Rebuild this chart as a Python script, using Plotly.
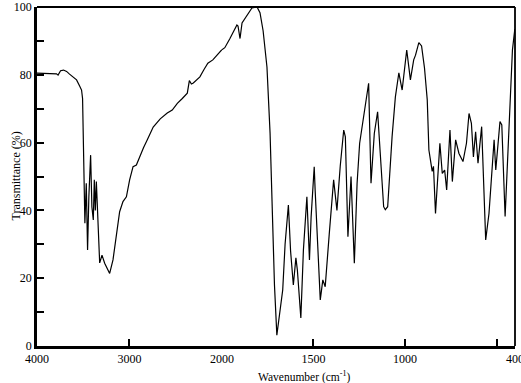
import plotly.graph_objects as go

wavenumber = [4000, 3919, 3843, 3789, 3772, 3745, 3713, 3680, 3648, 3605, 3572, 3539, 3518, 3507,
              3496, 3482, 3467, 3453, 3439, 3420, 3406, 3391, 3380, 3369, 3358, 3347, 3322, 3311,
              3297, 3268, 3214, 3178, 3141, 3106, 3070, 3033, 2998, 2961, 2925, 2889, 2848, 2808,
              2743, 2667, 2591, 2537, 2482, 2428, 2374, 2352, 2330, 2309, 2238, 2195, 2152, 2098,
              2022, 2000,
              1984, 1956, 1918, 1912, 1901, 1890, 1863, 1836, 1808, 1792, 1775, 1754, 1737, 1726,
              1713, 1700, 1693, 1682, 1668, 1655, 1637, 1625, 1610, 1596, 1588, 1569, 1555, 1536,
              1522, 1513, 1496, 1491, 1477, 1463, 1449, 1436, 1414, 1390, 1372, 1354, 1335, 1326,
              1312, 1295, 1277, 1262, 1248, 1226, 1199, 1186, 1168, 1150, 1135, 1117, 1108, 1095,
              1071, 1053, 1034, 1016, 991, 971, 953, 943, 925, 910, 894, 879, 870, 861, 852, 845,
              834, 810, 797, 784, 773, 755, 742, 724, 706, 684, 665, 651, 638, 627, 615, 602, 582,
              560, 542, 514, 505, 482, 472, 454, 432, 414, 401]
transmittance = [80.5, 80.4, 80.5, 80.3, 79.9, 81.2, 81.4, 81.0, 80.2, 79.3, 78.5, 76.7, 75.5, 73.0,
                 57.8, 36.2, 48.0, 28.3, 44.0, 56.3, 41.0, 37.2, 49.0, 40.0, 48.5, 40.0, 24.5, 25.5,
                 26.8, 24.4, 21.4, 25.4, 33.3, 39.6, 42.6, 44.0, 49.0, 52.9, 53.4, 56.0, 58.5, 60.8,
                 64.6, 67.0, 68.7, 69.6, 71.6, 73.0, 74.6, 78.3, 77.3, 77.6, 79.4, 81.5, 83.4, 84.4,
                 86.7, 87.4,
                 88.0, 90.7, 94.7, 94.4, 90.7, 95.3, 97.6, 99.7, 100.0, 98.3, 93.0, 82.3, 62.8, 43.0,
                 18.0, 3.2, 6.0, 10.6, 16.5, 30.0, 41.6, 28.0, 18.0, 26.0, 22.4, 8.3, 28.3, 44.0,
                 25.4, 38.0, 52.9, 46.0, 28.0, 13.6, 19.5, 17.5, 33.0, 49.0, 40.0, 53.0, 63.7, 61.7,
                 32.2, 50.0, 24.4, 48.0, 59.8, 67.6, 77.5, 48.0, 62.7, 69.1, 57.8, 41.1, 40.2, 41.1,
                 61.7, 73.5, 80.6, 75.5, 87.3, 78.5, 84.4, 85.8, 89.5, 88.5, 82.0, 72.6, 57.8, 55.0, 51.5, 53.0,
                 39.1, 59.8, 50.9, 51.9, 46.0, 63.7, 48.5, 60.8, 56.8, 54.4, 59.8, 68.6, 65.7, 55.8, 63.2, 53.9, 64.7,
                 31.3, 39.1, 60.8, 51.9, 66.2, 65.2, 38.2, 67.6, 87.3, 93.5]

high_ticks = [4000, 3000, 2000]
high_labels = ["4000", "3000", "2000"]
low_ticks = [1500, 1000, 400]
low_labels = ["1500", "1000", "400"]
unlabelled_ticks = [500]
y_ticks = [0, 20, 40, 60, 80, 100]

hi = [(w, t) for w, t in zip(wavenumber, transmittance) if w >= 2000]
lo = [(w, t) for w, t in zip(wavenumber, transmittance) if w <= 2000]

FONT = "Liberation Serif, Times New Roman, serif"
split = 184.5 / 477.0

fig = go.Figure()
line = dict(color="black", width=1.2)
fig.add_trace(go.Scatter(x=[p[0] for p in hi], y=[p[1] for p in hi], mode="lines",
                         line=line, xaxis="x", yaxis="y", showlegend=False))
fig.add_trace(go.Scatter(x=[p[0] for p in lo], y=[p[1] for p in lo], mode="lines",
                         line=line, xaxis="x2", yaxis="y", showlegend=False))

axis_common = dict(showgrid=False, zeroline=False, ticks="inside", ticklen=7, tickwidth=1.5,
                   tickcolor="black", showline=True, linecolor="black", linewidth=2.5,
                   automargin=False, ticklabeloverflow="allow",
                   tickfont=dict(family=FONT, size=12, color="black"))

fig.update_layout(
    width=521, height=383,
    margin=dict(l=37, r=6, t=7, b=37),
    paper_bgcolor="white", plot_bgcolor="white",
    xaxis=dict(domain=[0, split], range=[4000, 2000], tickvals=high_ticks, ticktext=high_labels,
               anchor="y", **axis_common),
    xaxis2=dict(domain=[split, 1], range=[2000, 400], tickvals=low_ticks, ticktext=low_labels,
                anchor="y",
                minor=dict(tickvals=unlabelled_ticks, ticks="inside", ticklen=7, tickwidth=1.5,
                           tickcolor="black"),
                **axis_common),
    yaxis=dict(range=[0, 100], tickvals=y_ticks, anchor="x",
               minor=dict(dtick=10, ticks="inside", ticklen=7, tickwidth=1.5, tickcolor="black"),
               **axis_common),
    shapes=[
        dict(type="line", xref="paper", yref="paper", x0=0, x1=1, y0=1, y1=1,
             line=dict(color="black", width=1.8)),
        dict(type="line", xref="paper", yref="paper", x0=1, x1=1, y0=0, y1=1,
             line=dict(color="black", width=1.8)),
    ],
    annotations=[
        dict(text="Wavenumber (cm<sup>-1</sup>)", xref="paper", yref="paper", x=0.559, y=0,
             yshift=-30, xanchor="center", yanchor="middle", showarrow=False,
             font=dict(family=FONT, size=11.5, color="black")),
        dict(text="Transmittance (%)", xref="paper", yref="paper", x=0, y=0.5,
             xshift=-22, textangle=-90, xanchor="center", yanchor="middle", showarrow=False,
             font=dict(family=FONT, size=12, color="black")),
    ],
)

fig.write_html("out.html")
